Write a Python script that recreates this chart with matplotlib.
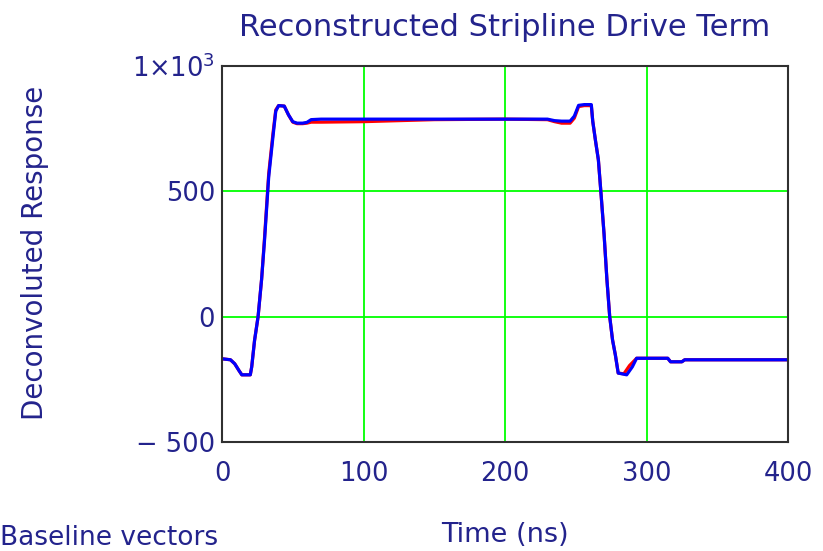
import numpy as np
import matplotlib.pyplot as plt

plt.rcParams['font.family'] = ['DejaVu Sans']

# time (ns) and response values
t_blue = [0, 6, 9, 12, 14, 20, 21, 23, 25.5, 28, 30, 33, 36, 38, 40, 44, 47, 50, 53, 57, 60,
          63, 70, 100, 150, 200, 230, 235, 240, 246, 249, 252, 256, 261, 262, 264, 266, 268,
          270, 272, 274, 276, 278, 280, 286, 290, 293, 300, 315, 317, 325, 327, 340, 400]
v_blue = [-168, -172, -188, -215, -232, -232, -200, -95, 0, 150, 300, 557, 717, 820, 842, 840,
          805, 778, 772, 772, 775, 786, 788, 788, 788, 788, 788, 782, 780, 780, 800, 843, 846,
          846, 780, 700, 625, 480, 330, 150, 0, -93, -153, -225, -232, -200, -166, -166, -166,
          -180, -180, -172, -172, -172]

t_red = [0, 6, 9, 12, 14, 20, 21, 23, 25.5, 28, 30, 33, 36, 38, 40, 44, 47, 50, 53, 57, 60,
         63, 70, 100, 150, 200, 230, 235, 240, 246, 249, 252, 256, 261, 262, 264, 266, 268,
         270, 272, 274, 276, 278, 280, 284, 288, 293, 300, 315, 317, 325, 327, 340, 400]
v_red = [-168, -172, -188, -215, -232, -232, -200, -95, 0, 150, 310, 570, 730, 825, 842, 840,
         805, 776, 770, 770, 772, 776, 776, 778, 786, 788, 786, 778, 772, 772, 792, 838, 842,
         842, 780, 700, 625, 480, 330, 150, 0, -93, -153, -225, -228, -195, -166, -166, -166,
         -180, -180, -172, -172, -172]

navy = '#23238c'

fig = plt.figure(figsize=(8.23, 5.51), dpi=100)
ax = fig.add_axes([222 / 823, 1 - 442 / 551, 566 / 823, 376 / 551])

ax.plot(t_red, v_red, color='red', lw=2.3)
ax.plot(t_blue, v_blue, color='blue', lw=2.3)

ax.set_xlim(0, 400)
ax.set_ylim(-500, 1000)
ax.set_xticks([0, 100, 200, 300, 400])
ax.set_yticks([-500, 0, 500, 1000])
ax.set_yticklabels(['\u2212 500', '0', '500', r'1$\times$10$^3$'])
ax.grid(True, color='#00ff00', lw=1.3)
ax.set_axisbelow(True)
ax.tick_params(length=0, labelsize=18.5, labelcolor=navy)
ax.tick_params(axis='x', pad=14)
ax.tick_params(axis='y', pad=5)
for s in ax.spines.values():
    s.set_color('#303030')
    s.set_linewidth(1.5)

fig.text(505 / 823, 1 - 28 / 551, 'Reconstructed Stripline Drive Term', fontsize=22,
         color=navy, ha='center', va='center')
fig.text(505 / 823, 1 - 535 / 551, 'Time (ns)', fontsize=19.5, color=navy,
         ha='center', va='center')
fig.text(35 / 823, 1 - 253 / 551, 'Deconvoluted Response', fontsize=20, color=navy,
         ha='center', va='center', rotation=90)

fig.text(0.0, 0.0, 'Baseline vectors', fontsize=19, color=navy, ha='left', va='bottom')

plt.savefig('out.png', dpi=100)
